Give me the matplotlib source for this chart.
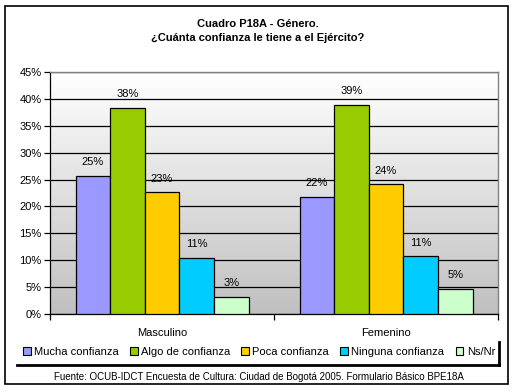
import numpy as np
import matplotlib.pyplot as plt
from matplotlib.patches import Rectangle, Patch
from matplotlib.lines import Line2D

plt.rcParams['font.family'] = ['Liberation Sans', 'DejaVu Sans']

categorias = ["Masculino", "Femenino"]
series = ["Mucha confianza", "Algo de confianza", "Poca confianza",
          "Ninguna confianza", "Ns/Nr"]
colores = ["#9999ff", "#99cc00", "#ffcc00", "#00ccff", "#ccffcc"]
# valores (%)
valores = [
    [25.6, 21.8],   # Mucha confianza
    [38.3, 38.8],   # Algo de confianza
    [22.6, 24.1],   # Poca confianza
    [10.5, 10.7],   # Ninguna confianza
    [3.1, 4.6],     # Ns/Nr
]
etiquetas = [
    ["25%", "22%"],
    ["38%", "39%"],
    ["23%", "24%"],
    ["11%", "11%"],
    ["3%", "5%"],
]
yticks = [0, 5, 10, 15, 20, 25, 30, 35, 40, 45]

W, H = 515, 391
fig = plt.figure(figsize=(W / 100, H / 100), dpi=100)
ax = fig.add_axes([50 / W, 1 - 314 / H, 448 / W, 242 / H])

# fondo degradado: blanco arriba, gris abajo
g = np.linspace(1.0, 0xc0 / 255, 256)
grad = np.repeat(g[:, None, None], 3, axis=2)
ax.imshow(grad, extent=[-0.5, 1.5, 0, 45], aspect='auto', zorder=0,
          origin='upper', interpolation='bilinear')

x = np.arange(len(categorias))
bw = 173 / 224 / 5
for i, (serie, col) in enumerate(zip(series, colores)):
    pos = x - 2.5 * bw + (i + 0.5) * bw
    ax.bar(pos, valores[i], width=bw, color=col, edgecolor='black',
           linewidth=0.9, zorder=3, label=serie)
    for px, v, t in zip(pos, valores[i], etiquetas[i]):
        ax.annotate(t, (px, v), xytext=(0, 10), textcoords='offset points',
                    ha='center', va='center', fontsize=8, zorder=4)

ax.set_xlim(-0.5, 1.5)
ax.set_ylim(0, 45)
ax.set_yticks(yticks)
ax.set_yticklabels([f"{t}%" for t in yticks], fontsize=8)
ax.yaxis.grid(True, color='black', linewidth=0.9, zorder=1)
ax.set_axisbelow(True)
ax.tick_params(axis='y', direction='out', length=4, width=0.9, pad=2)

ax.set_xticks([-0.5, 0.5, 1.5])
ax.set_xticklabels([])
ax.set_xticks(x, minor=True)
ax.set_xticklabels(categorias, minor=True, fontsize=8)
ax.tick_params(axis='x', which='major', direction='out', length=4, width=0.9)
ax.tick_params(axis='x', which='minor', length=0, pad=10)

for s in ['top', 'right']:
    ax.spines[s].set_color('#808080')
    ax.spines[s].set_linewidth(1.0)
for s in ['left', 'bottom']:
    ax.spines[s].set_color('black')
    ax.spines[s].set_linewidth(0.9)

fig.suptitle("Cuadro P18A - Género.\n¿Cuánta confianza le tiene a el Ejército?",
             y=1 - 31 / H, va='center', fontsize=8, fontweight='bold',
             linespacing=1.6)

handles = [Patch(facecolor=c, edgecolor='black', linewidth=0.8) for c in colores]
fig.legend(handles, series, loc='center', ncol=5,
           bbox_to_anchor=(259 / W, 1 - 352 / H), frameon=False, fontsize=8,
           handlelength=0.7, handleheight=0.7, handletextpad=0.3,
           columnspacing=1.0, borderpad=0)

# sombra de la leyenda
fig.add_artist(Line2D([17 / W, 499 / W], [1 - 365 / H, 1 - 365 / H],
                      transform=fig.transFigure, color='black', linewidth=2))
fig.add_artist(Line2D([499 / W, 499 / W], [1 - 342 / H, 1 - 365 / H],
                      transform=fig.transFigure, color='black', linewidth=2))

fig.text(259 / W, 1 - 377 / H,
         "Fuente: OCUB-IDCT Encuesta de Cultura: Ciudad de Bogotá 2005. "
         "Formulario Básico BPE18A", ha='center', va='center', fontsize=7)

fig.add_artist(Rectangle((5 / W, 1 - 384 / H), 503 / W, 378 / H,
                         transform=fig.transFigure, fill=False,
                         edgecolor='black', linewidth=1.2))

fig.savefig("out.png", dpi=100)
